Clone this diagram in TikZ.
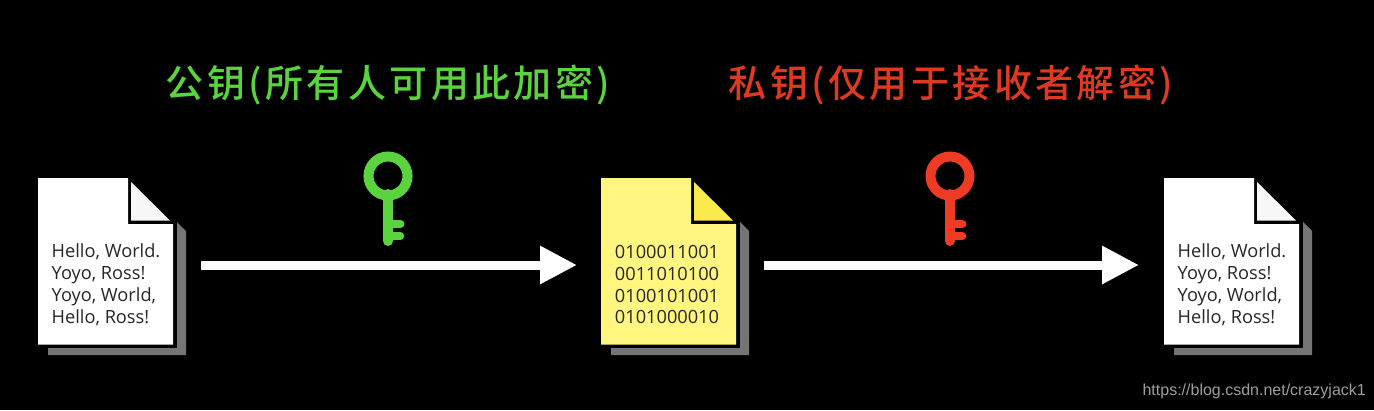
\documentclass[tikz,border=0pt]{standalone}
\usepackage{fontspec}
\usetikzlibrary{arrows.meta}
\setmainfont{Open Sans}
\newfontfamily\cjk{Noto Sans CJK SC}[BoldFont={* Medium}]
\newfontfamily\wm{Liberation Sans}
\definecolor{keygreen}{HTML}{5AD33F}
\definecolor{keyred}{HTML}{EE3B24}
\definecolor{titlegreen}{HTML}{5AD33F}
\definecolor{titlered}{HTML}{DD3A22}
\definecolor{shadowgray}{HTML}{757575}
\definecolor{paperyellow}{HTML}{FFF57F}
\definecolor{foldyellow}{HTML}{FBE84C}
\definecolor{foldwhite}{HTML}{F7F7F7}
\definecolor{inkdark}{HTML}{262626}
\tikzset{
  x=1pt,y=-1pt,
  titletext/.style={font=\cjk\fontsize{38}{42}\selectfont, inner sep=0pt, anchor=center},
  doctext/.style={font=\fontsize{18.2}{21.8}\selectfont, text=inkdark, inner sep=0pt, anchor=center, align=left},
  flow/.style={draw=white, line width=9pt, -{Triangle[length=37pt,width=36pt]}},
  pics/document/.style n args={2}{code={
    \fill[shadowgray] (139,44) -- (148,53) -- (148,177) -- (10,177) -- (10,170) -- (139,170) -- cycle;
    \fill[#1] (0,0) -- (90,0) -- (90,46) -- (135,46) -- (135,166.5) -- (0,166.5) -- cycle;
    \fill[#2] (93,4) -- (132,42.5) -- (93,42.5) -- cycle;
  }},
  pics/thekey/.style={code={
    \draw[#1, line width=10pt] (0,0) circle[radius=19.5];
    \draw[#1, line width=10pt, line cap=round] (0,18) -- (0,65);
    \draw[#1, line width=8pt, line cap=round] (4,48) -- (12.5,48);
    \draw[#1, line width=7.5pt, line cap=round] (4,60) -- (12.5,60);
  }}
}
\newcommand{\spreadtitle}[1]{\addfontfeature{LetterSpace=9}\bfseries #1}
\begin{document}
\begin{tikzpicture}
\useasboundingbox (0,0) rectangle (1374,410);
\fill[black] (0,0) rectangle (1374,410);

\node[titletext, text=titlegreen] (pubtitle) at (388,85) {\spreadtitle{公钥(所有人可用此加密)}};
\node[titletext, text=titlered] (privtitle) at (951,85) {\spreadtitle{私钥(仅用于接收者解密)}};

\pic at (38,178) {document={white}{foldwhite}};
\pic at (601,178) {document={paperyellow}{foldyellow}};
\pic at (1164,178) {document={white}{foldwhite}};

\node[doctext] (plainA) at (106,284.7) {Hello, World.\\Yoyo, Ross!\\Yoyo, World,\\Hello, Ross!};
\node[doctext] (cipher) at (667,284.7) {0100011001\\0011010100\\0100101001\\0101000010};
\node[doctext] (plainB) at (1232,284.7) {Hello, World.\\Yoyo, Ross!\\Yoyo, World,\\Hello, Ross!};

\pic at (388,176) {thekey=keygreen};
\pic at (950,176) {thekey=keyred};

\coordinate (a1) at (201,265);
\coordinate (a2) at (577,265);
\coordinate (b1) at (764,265);
\coordinate (b2) at (1139,265);
\draw[flow] (a1) -- (a2);
\draw[flow] (b1) -- (b2);

\node[font=\wm\fontsize{16}{18}\selectfont, text=white!62!black, inner sep=0pt, anchor=east] (mark) at (1366,391) {https://blog.csdn.net/crazyjack1};
\end{tikzpicture}
\end{document}
